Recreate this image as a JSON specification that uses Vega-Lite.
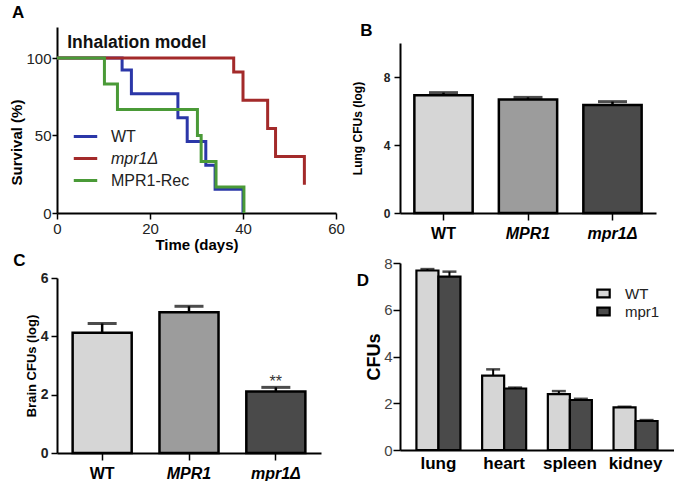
{
  "$schema": "https://vega.github.io/schema/vega-lite/v6.json",
  "padding": {"left": 9, "top": 0, "right": 0, "bottom": 0},
  "columns": 2,
  "align": {"row": "none", "column": "each"},
  "spacing": {"row": 0, "column": 6},
  "resolve": {"scale": {"fill": "independent", "color": "independent"}},
  "config": {
    "font": "Liberation Sans",
    "view": {"stroke": null},
    "axis": {"grid": false, "domainColor": "black", "domainWidth": 2, "tickColor": "black", "tickWidth": 1.5, "labelColor": "#222", "titleColor": "black", "labelFont": "Liberation Sans", "titleFont": "Liberation Sans", "titleFontWeight": "bold", "labelFlush": false},
    "title": {"anchor": "start", "frame": "bounds", "fontSize": 17, "fontWeight": "bold", "color": "black", "font": "Liberation Sans"},
    "legend": {"labelFont": "Liberation Sans", "labelColor": "#222"}
  },
  "concat": [
    {
      "width": 279,
      "height": 186,
      "title": {"text": "A", "offset": 5, "dx": 2},
      "layer": [
        {
          "data": {"values": [
            {"strain": "WT", "day": 0, "survival": 100},
            {"strain": "WT", "day": 14, "survival": 92.3},
            {"strain": "WT", "day": 16, "survival": 76.9},
            {"strain": "WT", "day": 26, "survival": 61.5},
            {"strain": "WT", "day": 28, "survival": 46.2},
            {"strain": "WT", "day": 32, "survival": 30.8},
            {"strain": "WT", "day": 34, "survival": 15.4},
            {"strain": "WT", "day": 40, "survival": 0},
            {"strain": "mpr1Δ", "day": 0, "survival": 100},
            {"strain": "mpr1Δ", "day": 38, "survival": 90.9},
            {"strain": "mpr1Δ", "day": 40, "survival": 72.7},
            {"strain": "mpr1Δ", "day": 45.3, "survival": 54.5},
            {"strain": "mpr1Δ", "day": 47, "survival": 36.4},
            {"strain": "mpr1Δ", "day": 53.2, "survival": 18.2},
            {"strain": "MPR1-Rec", "day": 0, "survival": 100},
            {"strain": "MPR1-Rec", "day": 10.2, "survival": 83.3},
            {"strain": "MPR1-Rec", "day": 13, "survival": 66.7},
            {"strain": "MPR1-Rec", "day": 30.2, "survival": 50},
            {"strain": "MPR1-Rec", "day": 31, "survival": 33.3},
            {"strain": "MPR1-Rec", "day": 34.2, "survival": 16.7},
            {"strain": "MPR1-Rec", "day": 40.2, "survival": 0}
          ]},
          "mark": {"type": "line", "interpolate": "step-after", "strokeWidth": 3, "clip": false},
          "encoding": {
            "x": {"field": "day", "type": "quantitative", "scale": {"domain": [0, 60], "nice": false},
              "axis": {"values": [0, 20, 40, 60], "tickSize": 6,
                "labelFontSize": 15, "labelPadding": 2, "title": "Time (days)", "titleFontSize": 15, "titlePadding": 1}},
            "y": {"field": "survival", "type": "quantitative", "scale": {"domain": [0, 120], "nice": false},
              "axis": {"values": [0, 50, 100], "tickSize": 5,
                "labelFontSize": 15, "labelPadding": 1, "title": "Survival (%)", "titleFontSize": 15, "titlePadding": 1, "titleY": 115}},
            "color": {"field": "strain", "type": "nominal",
              "scale": {"domain": ["WT", "mpr1Δ", "MPR1-Rec"], "range": ["#2b37a8", "#a32a2a", "#4a9a37"]},
              "legend": {"orient": "none", "legendX": 15, "legendY": 96, "title": null, "labelFontSize": 16, "symbolType": "stroke", "symbolStrokeWidth": 3, "symbolSize": 550, "rowPadding": -5, "labelOffset": 12,
                "encode": {"labels": {"update": {"fontStyle": {"signal": "datum.label === 'mpr1Δ' ? 'italic' : 'normal'"}}}}}}
          }
        },
        {
          "data": {"values": [{}]},
          "mark": {"type": "text", "align": "left", "baseline": "middle", "fontSize": 17.5, "fontWeight": "bold", "color": "#111"},
          "encoding": {"x": {"datum": 2.2}, "y": {"datum": 110}, "text": {"value": "Inhalation model"}}
        }
      ]
    },
    {
      "width": 256,
      "height": 186,
      "title": {"text": [" ", "B"], "lineHeight": 22, "offset": -13, "dx": 9},
      "data": {"values": [
        {"strain": "WT", "mean": 6.93, "hi": 7.08},
        {"strain": "MPR1", "mean": 6.67, "hi": 6.8},
        {"strain": "mpr1Δ", "mean": 6.35, "hi": 6.55}
      ]},
      "layer": [
        {
          "mark": {"type": "bar", "stroke": "black", "strokeWidth": 2.5},
          "encoding": {
            "x": {"field": "strain", "type": "nominal", "sort": null, "scale": {"paddingInner": 0.31, "paddingOuter": 0.17},
              "axis": {"title": null, "labelAngle": 0, "labelFontSize": 16, "labelFontWeight": "bold", "labelColor": "black", "tickSize": 7, "labelPadding": 5,
                "labelFontStyle": {"condition": {"test": "datum.value !== 'WT'", "value": "italic"}, "value": "normal"}}},
            "y": {"field": "mean", "type": "quantitative", "scale": {"domain": [0, 10], "nice": false, "range": [186, 16]},
              "axis": {"values": [0, 2, 4, 6, 8, 10], "tickSize": 6,
                "labelFontSize": 12, "labelFontWeight": "bold", "labelPadding": 4, "title": "Lung CFUs (log)", "titleFontSize": 12, "titlePadding": 19}},
            "fill": {"field": "strain", "type": "nominal", "scale": {"domain": ["WT", "MPR1", "mpr1Δ"], "range": ["#d6d6d6", "#9c9c9c", "#4a4a4a"]}, "legend": null}
          }
        },
        {
          "mark": {"type": "rule", "strokeWidth": 2.5, "color": "black"},
          "encoding": {"x": {"field": "strain", "type": "nominal", "sort": null}, "y": {"field": "mean", "type": "quantitative"}, "y2": {"field": "hi"}}
        },
        {
          "mark": {"type": "tick", "thickness": 3, "size": 29, "color": "black"},
          "encoding": {"x": {"field": "strain", "type": "nominal", "sort": null}, "y": {"field": "hi", "type": "quantitative"}}
        }
      ]
    },
    {
      "width": 264,
      "height": 175,
      "title": {"text": "C", "offset": 1, "dx": -12},
      "data": {"values": [
        {"strain": "WT", "mean": 4.12, "hi": 4.44, "sig": ""},
        {"strain": "MPR1", "mean": 4.83, "hi": 5.03, "sig": ""},
        {"strain": "mpr1Δ", "mean": 2.11, "hi": 2.25, "sig": "**"}
      ]},
      "layer": [
        {
          "mark": {"type": "bar", "stroke": "black", "strokeWidth": 2.5},
          "encoding": {
            "x": {"field": "strain", "type": "nominal", "sort": null, "scale": {"paddingInner": 0.32, "paddingOuter": 0.18},
              "axis": {"title": null, "labelAngle": 0, "labelFontSize": 16, "labelFontWeight": "bold", "labelColor": "black", "tickSize": 7, "labelPadding": 5,
                "labelFontStyle": {"condition": {"test": "datum.value !== 'WT'", "value": "italic"}, "value": "normal"}}},
            "y": {"field": "mean", "type": "quantitative", "scale": {"domain": [0, 6], "nice": false},
              "axis": {"values": [0, 2, 4, 6], "tickSize": 6,
                "labelFontSize": 14, "labelFontWeight": "bold", "labelPadding": 3, "title": "Brain CFUs (log)", "titleFontSize": 13, "titlePadding": 2}},
            "fill": {"field": "strain", "type": "nominal", "scale": {"domain": ["WT", "MPR1", "mpr1Δ"], "range": ["#d6d6d6", "#9c9c9c", "#4a4a4a"]}, "legend": null}
          }
        },
        {
          "mark": {"type": "rule", "strokeWidth": 2.5, "color": "black"},
          "encoding": {"x": {"field": "strain", "type": "nominal", "sort": null}, "y": {"field": "mean", "type": "quantitative"}, "y2": {"field": "hi"}}
        },
        {
          "mark": {"type": "tick", "thickness": 3, "size": 29, "color": "black"},
          "encoding": {"x": {"field": "strain", "type": "nominal", "sort": null}, "y": {"field": "hi", "type": "quantitative"}}
        },
        {
          "mark": {"type": "text", "baseline": "alphabetic", "fontSize": 16, "color": "#333"},
          "encoding": {"x": {"field": "strain", "type": "nominal", "sort": null}, "y": {"field": "hi", "type": "quantitative"}, "text": {"field": "sig"}}
        }
      ]
    },
    {
      "width": 274,
      "height": 187,
      "title": {"text": [" ", "D"], "lineHeight": 19, "offset": -33.5, "dx": -9},
      "data": {"values": [
        {"organ": "lung", "group": "WT", "mean": 7.68, "hi": 7.74},
        {"organ": "lung", "group": "mpr1", "mean": 7.42, "hi": 7.63},
        {"organ": "heart", "group": "WT", "mean": 3.18, "hi": 3.45},
        {"organ": "heart", "group": "mpr1", "mean": 2.63, "hi": 2.67},
        {"organ": "spleen", "group": "WT", "mean": 2.39, "hi": 2.52},
        {"organ": "spleen", "group": "mpr1", "mean": 2.14, "hi": 2.19},
        {"organ": "kidney", "group": "WT", "mean": 1.82, "hi": 1.85},
        {"organ": "kidney", "group": "mpr1", "mean": 1.24, "hi": 1.28}
      ]},
      "layer": [
        {
          "mark": {"type": "bar", "stroke": "black", "strokeWidth": 2.2},
          "encoding": {
            "x": {"field": "organ", "type": "nominal", "sort": null, "scale": {"paddingInner": 0.33, "paddingOuter": 0.25},
              "axis": {"title": null, "labelAngle": 0, "labelFontSize": 17, "labelFontWeight": "bold", "labelColor": "black", "ticks": false, "labelPadding": 5}},
            "xOffset": {"field": "group", "type": "nominal", "sort": ["WT", "mpr1"]},
            "y": {"field": "mean", "type": "quantitative", "scale": {"domain": [0, 8], "nice": false},
              "axis": {"values": [0, 2, 4, 6, 8], "tickSize": 7,
                "labelFontSize": 15, "labelColor": "#444", "labelPadding": 1, "title": "CFUs", "titleFontSize": 18, "titlePadding": 0}},
            "fill": {"field": "group", "type": "nominal", "scale": {"domain": ["WT", "mpr1"], "range": ["#d6d6d6", "#4a4a4a"]},
              "legend": {"orient": "none", "legendX": 196, "legendY": 23, "title": null, "labelFontSize": 15, "symbolType": "M-1.6,-1H1.6V1H-1.6Z", "symbolSize": 60, "symbolStrokeColor": "black", "symbolStrokeWidth": 2.2, "rowPadding": 1, "labelOffset": 14}}
          }
        },
        {
          "mark": {"type": "rule", "strokeWidth": 2, "color": "black"},
          "encoding": {"x": {"field": "organ", "type": "nominal", "sort": null}, "xOffset": {"field": "group", "type": "nominal", "sort": ["WT", "mpr1"]}, "y": {"field": "mean", "type": "quantitative"}, "y2": {"field": "hi"}}
        },
        {
          "mark": {"type": "tick", "thickness": 2.5, "size": 14, "color": "black"},
          "encoding": {"x": {"field": "organ", "type": "nominal", "sort": null}, "xOffset": {"field": "group", "type": "nominal", "sort": ["WT", "mpr1"]}, "y": {"field": "hi", "type": "quantitative"}}
        }
      ]
    }
  ]
}
